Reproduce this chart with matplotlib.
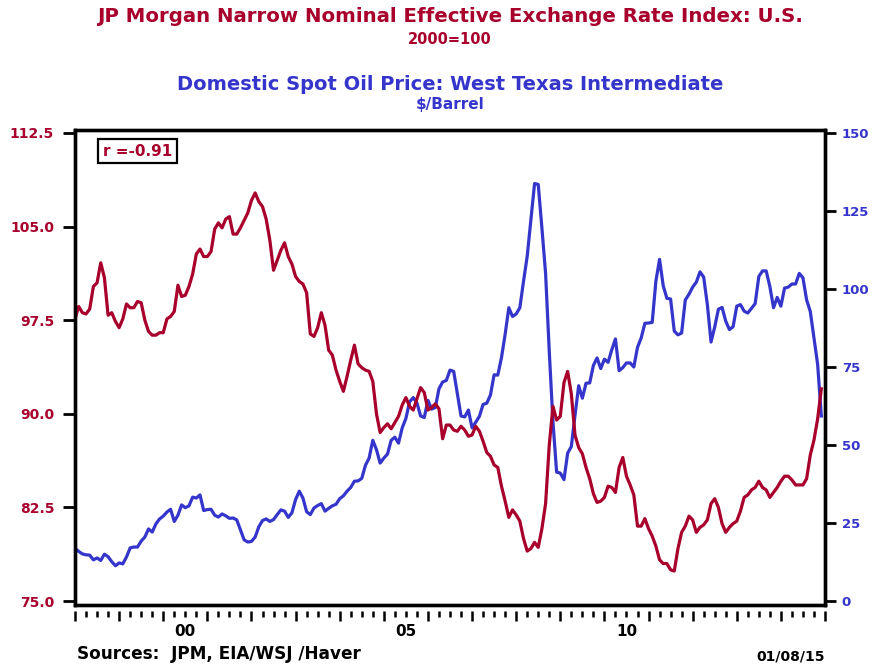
import numpy as np
import matplotlib
matplotlib.use("Agg")
import matplotlib.pyplot as plt
from matplotlib.ticker import FixedLocator, FuncFormatter

# ---------------- data (monthly, Jan 1998 - Dec 2014) ----------------
start_year = 1998
jpm_neer = [
    97.6, 98.6, 98.1, 98.0, 98.4, 100.2, 100.5, 102.1, 100.9, 97.9, 98.1, 97.4,   # 1998
    96.9, 97.6, 98.8, 98.5, 98.5, 99.0, 98.9, 97.5, 96.6, 96.3, 96.3, 96.5,       # 1999
    96.5, 97.6, 97.8, 98.2, 100.3, 99.4, 99.5, 100.2, 101.2, 102.8, 103.2, 102.6, # 2000
    102.6, 103.0, 104.8, 105.3, 104.9, 105.6, 105.8, 104.4, 104.4, 104.9, 105.5, 106.1,  # 2001
    107.1, 107.7, 107.0, 106.6, 105.6, 103.9, 101.5, 102.3, 103.1, 103.7, 102.6, 102.0,  # 2002
    101.0, 100.6, 100.4, 99.7, 96.4, 96.2, 96.9, 98.1, 97.1, 95.1, 94.7, 93.5,    # 2003
    92.6, 91.8, 93.0, 94.3, 95.5, 94.0, 93.7, 93.5, 93.4, 92.6, 90.0, 88.5,       # 2004
    88.9, 89.2, 88.8, 89.3, 89.8, 90.7, 91.3, 90.6, 90.3, 91.2, 92.1, 91.7,       # 2005
    90.3, 90.5, 90.8, 90.4, 88.0, 89.1, 89.1, 88.7, 88.6, 89.0, 88.7, 88.2,       # 2006
    88.3, 89.0, 88.6, 87.8, 86.9, 86.6, 85.9, 85.7, 84.2, 83.0, 81.7, 82.3,       # 2007
    81.9, 81.4, 80.0, 79.0, 79.2, 79.7, 79.3, 80.8, 82.8, 87.5, 90.6, 89.5,       # 2008
    89.8, 92.5, 93.4, 91.6, 88.3, 87.3, 86.8, 85.7, 84.8, 83.6, 82.9, 83.0,       # 2009
    83.3, 84.2, 84.1, 83.7, 85.7, 86.5, 85.0, 84.3, 83.5, 81.0, 81.0, 81.6,       # 2010
    80.8, 80.2, 79.4, 78.3, 78.0, 78.0, 77.5, 77.4, 79.2, 80.5, 81.0, 81.8,       # 2011
    81.5, 80.5, 80.9, 81.1, 81.5, 82.8, 83.2, 82.5, 81.2, 80.5, 80.9, 81.2,       # 2012
    81.4, 82.2, 83.3, 83.5, 83.9, 84.1, 84.6, 84.1, 83.9, 83.3, 83.7, 84.1,       # 2013
    84.6, 85.0, 85.0, 84.7, 84.3, 84.3, 84.3, 84.8, 86.7, 87.9, 89.6, 92.0,       # 2014
]
wti_oil = [
    16.9, 15.9, 15.1, 14.8, 14.7, 13.2, 13.8, 13.0, 15.0, 14.2, 12.6, 11.3,       # 1998
    12.2, 11.9, 14.1, 17.0, 17.3, 17.3, 19.2, 20.5, 23.1, 22.1, 24.7, 26.3,       # 1999
    27.2, 28.5, 29.4, 25.5, 27.5, 30.8, 29.9, 30.5, 33.3, 33.0, 34.0, 29.0,       # 2000
    29.3, 29.4, 27.5, 26.9, 27.9, 27.3, 26.5, 26.6, 26.0, 22.8, 19.6, 18.9,       # 2001
    19.1, 20.5, 23.8, 25.8, 26.3, 25.5, 26.1, 27.7, 29.2, 28.8, 26.8, 28.3,       # 2002
    32.5, 35.2, 33.0, 28.6, 27.7, 29.8, 30.6, 31.2, 28.8, 29.7, 30.5, 31.0,       # 2003
    32.8, 33.7, 35.2, 36.4, 38.4, 38.5, 39.3, 43.5, 45.8, 51.5, 48.5, 44.2,       # 2004
    45.8, 47.1, 51.5, 52.5, 50.6, 55.5, 58.5, 63.8, 65.2, 63.5, 59.3, 58.8,       # 2005
    64.3, 61.5, 62.0, 68.0, 70.2, 70.7, 74.0, 73.6, 66.5, 59.3, 59.0, 61.2,       # 2006
    55.5, 57.3, 59.2, 63.0, 63.4, 66.0, 72.5, 72.4, 78.0, 85.5, 94.0, 91.2,       # 2007
    92.0, 94.0, 102.5, 110.5, 122.0, 133.8, 133.5, 119.5, 105.0, 80.0, 57.5, 41.3,  # 2008
    41.0, 38.9, 47.4, 49.5, 59.5, 69.0, 65.0, 69.8, 69.9, 75.5, 77.9, 74.5,       # 2009
    77.5, 76.5, 80.5, 84.0, 73.8, 74.8, 76.3, 76.3, 75.0, 81.3, 84.3, 89.0,       # 2010
    89.1, 89.3, 102.5, 109.5, 101.0, 97.0, 96.8, 86.5, 85.3, 85.9, 96.5, 98.3,    # 2011
    100.6, 102.2, 105.5, 103.8, 95.0, 83.0, 87.8, 93.5, 94.1, 89.7, 87.0, 87.9,   # 2012
    94.5, 95.0, 92.9, 92.3, 93.8, 95.3, 104.0, 105.8, 105.8, 100.8, 94.0, 97.3,   # 2013
    94.5, 100.3, 100.6, 101.6, 101.6, 105.0, 103.6, 96.5, 92.8, 84.3, 75.8, 59.3, # 2014
]
left_ticks = [75.0, 82.5, 90.0, 97.5, 105.0, 112.5]
right_ticks = [0, 25, 50, 75, 100, 125, 150]
year_labels = {2000: "00", 2005: "05", 2010: "10"}
r_text = "r =-0.91"

RED = "#A8002B"
BLUE = "#3535CC"
FONT = "DejaVu Sans"

dates = start_year + np.arange(len(jpm_neer)) / 12.0

fig = plt.figure(figsize=(8.76, 6.66), dpi=100)
ax = fig.add_axes([75 / 876, 1 - 605 / 666, 750 / 876, 475 / 666])
ax2 = ax.twinx()

ax2.plot(dates, wti_oil, color=BLUE, lw=2.3, solid_joinstyle="round")
ax.plot(dates, jpm_neer, color=RED, lw=2.3, solid_joinstyle="round")
ax.set_zorder(ax2.get_zorder() + 1)
ax.patch.set_visible(False)

ax.set_xlim(1998, 2015)
ax.set_ylim(74.68, 112.74)
ax2.set_ylim(-1.28, 150.96)

for a in (ax, ax2):
    for s in a.spines.values():
        s.set_linewidth(2.4)
        s.set_color("black")

ax.set_yticks(left_ticks)
ax.yaxis.set_major_formatter(FuncFormatter(lambda v, p: f"{v:.1f}"))
ax.tick_params(axis="y", direction="out", length=9, width=2, pad=6,
               labelcolor=RED, labelsize=10)
ax2.set_yticks(right_ticks)
ax2.tick_params(axis="y", direction="out", length=8, width=2, pad=4,
                labelcolor=BLUE, labelsize=9.5)
for lab in ax.get_yticklabels() + ax2.get_yticklabels():
    lab.set_fontweight("bold")
    lab.set_family(FONT)

# x labels at mid-year, no tick marks
ax.set_xticks([y + 0.5 for y in year_labels])
ax.set_xticklabels(list(year_labels.values()), fontweight="bold", family=FONT, fontsize=11)
ax.tick_params(axis="x", length=0, pad=14)

# separate tick row just below the frame
sec = ax.secondary_xaxis(-0.0126)
sec.spines["bottom"].set_visible(False)
sec.xaxis.set_major_locator(FixedLocator(np.arange(1998, 2016)))
sec.xaxis.set_minor_locator(FixedLocator(np.arange(1998, 2015.01, 0.25)))
sec.tick_params(axis="x", which="major", direction="out", length=7.5, width=1.8, labelbottom=False)
sec.tick_params(axis="x", which="minor", direction="out", length=4, width=1.8)

# correlation box
ax.text(0.037, 0.955, r_text, transform=ax.transAxes, color=RED, fontsize=11,
        fontweight="bold", family=FONT, ha="left", va="center",
        bbox=dict(boxstyle="square,pad=0.3", fc="white", ec="black", lw=1.6))

# titles
cx = 450 / 876
fig.text(cx, 1 - 17 / 666, "JP Morgan Narrow Nominal Effective Exchange Rate Index: U.S.",
         color=RED, fontsize=14.2, fontweight="bold", family=FONT, ha="center", va="center")
fig.text(cx, 1 - 40 / 666, "2000=100", color=RED, fontsize=10.5, fontweight="bold",
         family=FONT, ha="center", va="center")
fig.text(cx, 1 - 84 / 666, "Domestic Spot Oil Price: West Texas Intermediate",
         color=BLUE, fontsize=14, fontweight="bold", family=FONT, ha="center", va="center")
fig.text(cx, 1 - 105 / 666, "$/Barrel", color=BLUE, fontsize=11, fontweight="bold",
         family=FONT, ha="center", va="center")

fig.text(77 / 876, 1 - 654 / 666, "Sources:  JPM, EIA/WSJ /Haver", color="black",
         fontsize=12.2, fontweight="bold", family=FONT, ha="left", va="center")
fig.text(825 / 876, 1 - 656 / 666, "01/08/15", color="black", fontsize=10,
         fontweight="bold", family=FONT, ha="right", va="center")

fig.savefig("out.png", dpi=100)
